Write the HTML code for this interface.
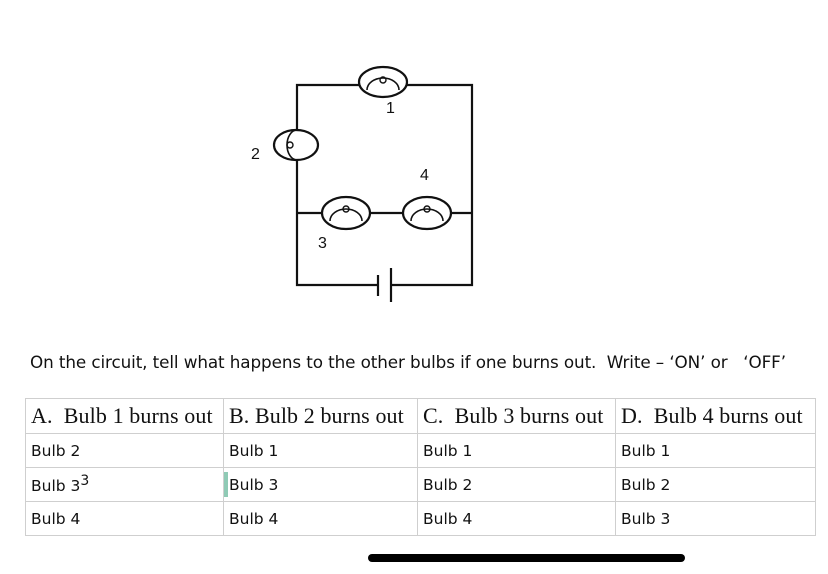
<!DOCTYPE html>
<html><head><meta charset="utf-8"><style>
html,body{margin:0;padding:0;background:#fff;width:828px;height:574px;overflow:hidden;position:relative}
.t{position:absolute;font-family:"Liberation Sans",sans-serif;color:#111;white-space:nowrap}
table{position:absolute;left:25px;top:398px;border-collapse:collapse;width:791px;table-layout:fixed}
td{border:1.5px solid #cfcfcf;padding:0 0 0 5px;height:33px;font-family:"DejaVu Sans","Liberation Sans",sans-serif;font-size:15.5px;color:#111;white-space:nowrap;overflow:visible}
tr.h td{font-family:"Liberation Serif",serif;font-size:22px;height:34px;padding-left:5px;letter-spacing:0.1px}
</style></head><body>
<svg width="828" height="574" style="position:absolute;left:0;top:0">
<g stroke="#111" stroke-width="2.2" fill="none">
<path d="M297 130 V85 H359 M407 85 H472 V285 H391 M378 285 H297 V160"/>
<line x1="297" y1="213" x2="472" y2="213"/>
<line x1="378" y1="275" x2="378" y2="296"/>
<line x1="391" y1="268" x2="391" y2="302"/>
<ellipse cx="383" cy="82" rx="24" ry="15" fill="#fff"/>
<path d="M367 90 A16 12 0 0 1 399 90" stroke-width="1.6"/>
<circle cx="383" cy="80" r="3" stroke-width="1.4"/>
<ellipse cx="296" cy="145" rx="22" ry="15" fill="#fff"/>
<path d="M297 130 A10 15 0 0 0 297 160" stroke-width="1.6"/>
<circle cx="290" cy="145" r="3" stroke-width="1.4"/>
<ellipse cx="346" cy="213" rx="24" ry="16" fill="#fff"/>
<path d="M330 221 A16 12 0 0 1 362 221" stroke-width="1.6"/>
<circle cx="346" cy="209" r="3" stroke-width="1.4"/>
<ellipse cx="427" cy="213" rx="24" ry="16" fill="#fff"/>
<path d="M411 221 A16 12 0 0 1 443 221" stroke-width="1.6"/>
<circle cx="427" cy="209" r="3" stroke-width="1.4"/>
</g>
<rect x="368" y="554" width="317" height="8" rx="4" fill="#000"/>
</svg>
<div class="t" style="left:386px;top:100px;font-size:16px">1</div>
<div class="t" style="left:251px;top:146px;font-size:16px">2</div>
<div class="t" style="left:420px;top:167px;font-size:16px">4</div>
<div class="t" style="left:318px;top:235px;font-size:16px">3</div>
<div class="t" style="left:30px;top:352px;font-size:16.8px;font-family:'DejaVu Sans','Liberation Sans',sans-serif;letter-spacing:-0.1px">On the circuit, tell what happens to the other bulbs if one burns out.&nbsp; Write – ‘ON’ or &nbsp;&nbsp;‘OFF’</div>
<table>
<colgroup><col style="width:198px"><col style="width:194px"><col style="width:198px"><col></colgroup>
<tr class="h"><td>A.&nbsp; Bulb 1 burns out</td><td>B. Bulb 2 burns out</td><td>C.&nbsp; Bulb 3 burns out</td><td>D.&nbsp; Bulb 4 burns out</td></tr>
<tr><td>Bulb 2</td><td>Bulb 1</td><td>Bulb 1</td><td>Bulb 1</td></tr>
<tr><td>Bulb 3<sup style="font-size:14px">3</sup></td><td style="position:relative"><span style="position:absolute;left:0;top:4px;width:4px;height:25px;background:#8fcab5"></span>Bulb 3</td><td>Bulb 2</td><td>Bulb 2</td></tr>
<tr><td>Bulb 4</td><td>Bulb 4</td><td>Bulb 4</td><td>Bulb 3</td></tr>
</table>
</body></html>
